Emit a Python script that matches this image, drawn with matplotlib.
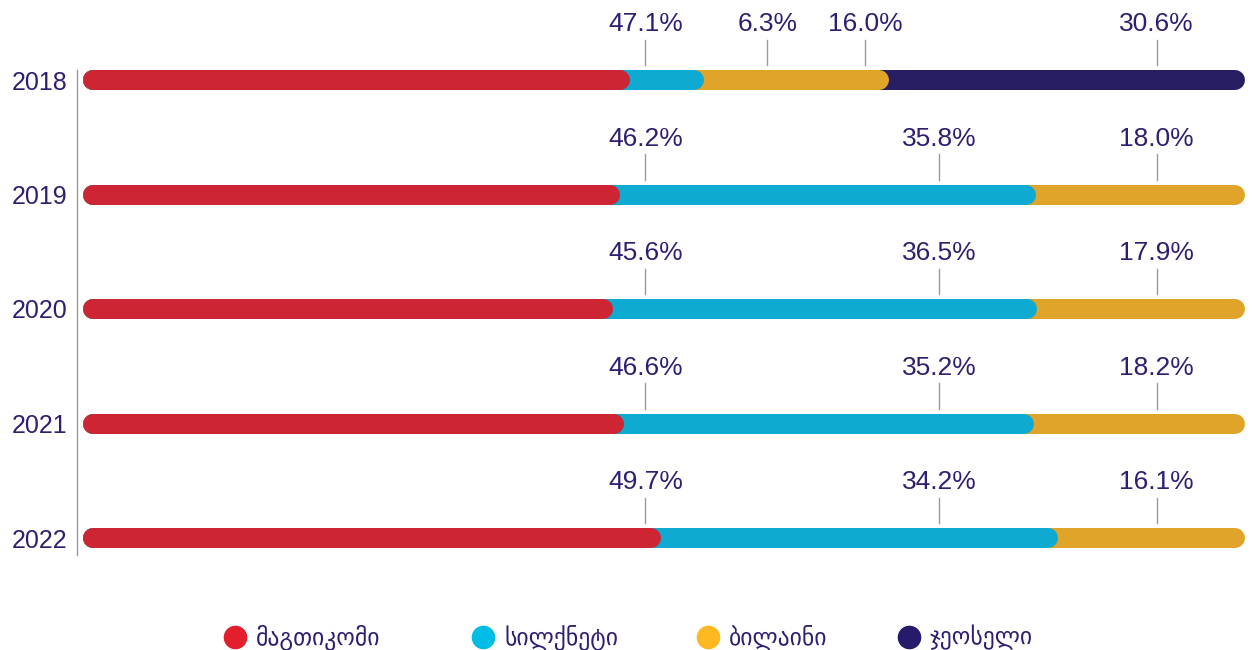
import numpy as np
import matplotlib.pyplot as plt

years = ["2018", "2019", "2020", "2021", "2022"]
operators = ["მაგთიკომი", "სილქნეტი", "ბილაინი", "ჯეოსელი"]
magticom = [47.1, 46.2, 45.6, 46.6, 49.7]
silknet = [6.3, 35.8, 36.5, 35.2, 34.2]
beeline = [16.0, 18.0, 17.9, 18.2, 16.1]
geocell = [30.6, 0.0, 0.0, 0.0, 0.0]

# label anchor columns (x in percent units), as in the original layout
label_cols_4 = [48.4, 58.9, 67.3, 92.4]
label_cols_3 = [48.4, 73.7, 92.4]
# legend marker positions (figure pixels)
legend_x_px = [235, 483, 708, 909]
legend_y_px = 637

bar_colors = ["#cd2533", "#0eaad2", "#e1a42a", "#261d63"]
dot_colors = ["#e31e2d", "#00bde8", "#fdb822", "#261b6b"]
text_color = "#2b2170"

W, H, DPI = 12.52, 6.5, 100
fig = plt.figure(figsize=(W, H), dpi=DPI)
# axes: left spine at 77px, x=0 at 83px, x=100 at 1245px; rows at 80..538px
px_per_unit = 1162 / 100
xmin = -6 / px_per_unit
left_px, right_px = 77, 1245
top_px, bot_px = 80 - 57.25, 538 + 57.25
ax = fig.add_axes([left_px / 1252, 1 - bot_px / 650,
                   (right_px - left_px) / 1252, (bot_px - top_px) / 650])
ax.set_xlim(xmin, 100)
ax.set_ylim(4.5, -0.5)

bar_h_px = 20
r = (bar_h_px / 2) / px_per_unit
lw_pt = bar_h_px * 72 / DPI

series = [magticom, silknet, beeline, geocell]
for i, yr in enumerate(years):
    vals = [s[i] for s in series]
    ends = np.cumsum(vals)
    # draw from last to first so each rounded end sits over the next segment
    for k in range(len(vals) - 1, -1, -1):
        if vals[k] <= 0:
            continue
        ax.plot([r, ends[k] - r], [i, i], color=bar_colors[k], lw=lw_pt,
                solid_capstyle="round", zorder=2 + (len(vals) - k))
    shown = [v for v in vals if v > 0]
    cols = label_cols_4 if len(shown) == 4 else label_cols_3
    for v, xc in zip(shown, cols):
        ax.plot([xc, xc], [i - 0.35, i - 0.13], color="#9a9a9a", lw=1.0, zorder=1)
        ax.text(xc, i - 0.485, f"{v:.1f}%", ha="center", va="center",
                fontsize=19, color=text_color,
                family=["Liberation Sans", "DejaVu Sans"])

ax.set_yticks(range(len(years)))
ax.set_yticklabels(years, fontsize=18, color=text_color,
                   family=["Liberation Sans", "DejaVu Sans"])
ax.tick_params(axis="y", length=0, pad=7)
ax.set_xticks([])
for side in ["top", "right", "bottom"]:
    ax.spines[side].set_visible(False)
ax.spines["left"].set_color("#9a9a9a")
ax.spines["left"].set_linewidth(1.0)
ax.spines["left"].set_bounds(-0.09, 4.15)

# legend drawn by hand to keep the original spacing
ly = 1 - legend_y_px / 650
for name, c, xp in zip(operators, dot_colors, legend_x_px):
    fig.lines.append(plt.Line2D([xp / 1252], [ly], transform=fig.transFigure,
                                marker="o", markersize=16, linestyle="none",
                                markerfacecolor=c, markeredgecolor=c))
    fig.text((xp + 21) / 1252, ly, name, ha="left", va="center", fontsize=17,
             color=text_color, family=["DejaVu Sans"])

fig.savefig("out.png", dpi=DPI)
